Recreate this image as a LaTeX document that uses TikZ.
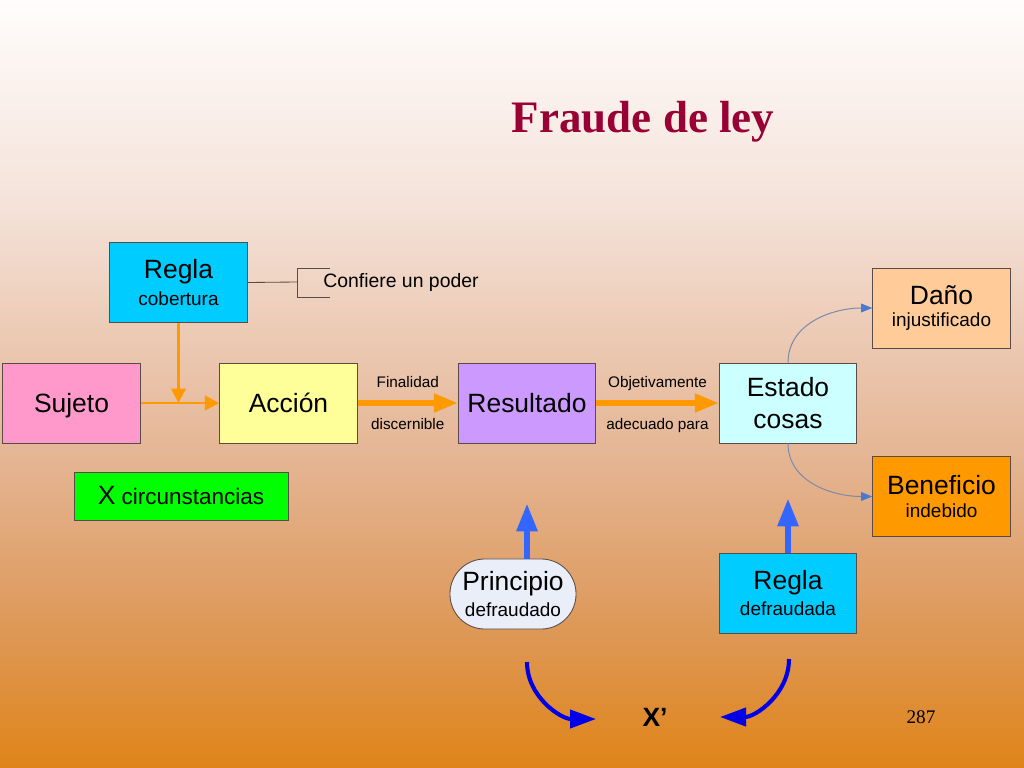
\documentclass[tikz,border=0pt]{standalone}
\usepackage{fontspec}
\setmainfont{Liberation Sans}
\newfontfamily\serifa{Liberation Serif}
\usetikzlibrary{arrows.meta}
\definecolor{cian}{HTML}{00CCFF}
\definecolor{rosa}{HTML}{FF99CC}
\definecolor{amarillo}{HTML}{FFFF99}
\definecolor{violeta}{HTML}{CC99FF}
\definecolor{celeste}{HTML}{CCFFFF}
\definecolor{salmon}{HTML}{FFCC99}
\definecolor{naranja}{HTML}{FF9900}
\definecolor{verde}{HTML}{00FF00}
\definecolor{lila}{HTML}{E9EEF9}
\definecolor{azul}{HTML}{3366FF}
\definecolor{azulosc}{HTML}{0000E6}
\definecolor{gris}{HTML}{7A8AA8}
\definecolor{puntaazul}{HTML}{4A7AD0}
\definecolor{titulo}{HTML}{990033}
\definecolor{borde}{HTML}{5A4A48}
\definecolor{f1}{HTML}{DF8418}
\definecolor{f2}{HTML}{DE9A5C}
\definecolor{f3}{HTML}{E4B390}
\definecolor{f4}{HTML}{EDCDB9}
\definecolor{f5}{HTML}{F5E3DA}
\definecolor{f6}{HTML}{FFFDFC}
\pgfdeclareverticalshading{fondo}{100bp}{color(0bp)=(f1); color(25bp)=(f1); color(34.8bp)=(f2); color(44.5bp)=(f3); color(54.3bp)=(f4); color(62bp)=(f5); color(75bp)=(f6); color(100bp)=(f6)}
\newcommand{\grande}{\fontsize{18.8}{22.8}\selectfont}
\newcommand{\chico}{\fontsize{13.5}{21}\selectfont}
\newcommand{\dos}[2]{\grande #1\\[4.3pt]\chico #2}
\begin{document}
\begin{tikzpicture}[x=0.025cm, y=-0.025cm,
    caja/.style={draw=borde, line width=0.6pt, minimum width=3.44cm, minimum height=2cm, align=center, inner sep=0pt},
    flecha/.style={naranja, line width=2pt, -{Triangle[length=0.36cm,width=0.36cm]}},
    gruesa/.style={naranja, line width=3.6pt, -{Triangle[length=0.6cm,width=0.45cm]}},
    sube/.style={azul, line width=4.3pt, -{Triangle[length=0.7cm,width=0.5cm]}},
    curva/.style={azulosc, line width=2.9pt, -{Triangle[length=0.65cm,width=0.45cm]}},
    fina/.style={gris, line width=0.7pt, -{Triangle[length=0.28cm,width=0.22cm,color=puntaazul]}},
    eti/.style={font=\fontsize{10.9}{12}\selectfont, text=black, inner sep=0pt, text depth=0pt}]
    \useasboundingbox (0,0) rectangle (1024,768);
    \shade[shading=fondo] (0,0) rectangle (1024,768);
    \node[font=\serifa\bfseries\fontsize{32}{36}\selectfont, text=titulo] (tit) at (643,122) {Fraude de ley};
    % cajas
    \node[caja, fill=cian] (reg) at (178.5,282.5) {\dos{Regla}{cobertura}};
    \node[caja, fill=rosa, text depth=0pt] (suj) at (71.5,403) {\grande Sujeto};
    \node[caja, fill=amarillo] (acc) at (288.5,403) {\grande Acción};
    \node[caja, fill=violeta] (res) at (527,403) {\grande Resultado};
    \node[caja, fill=celeste, font=\grande] (est) at (788,403) {Estado\\cosas};
    \node[caja, fill=salmon] (dano) at (941.5,308) {\dos{Daño}{injustificado}};
    \node[caja, fill=naranja] (bene) at (941.5,496.5) {\dos{Beneficio}{indebido}};
    \node[caja, fill=verde, minimum width=5.35cm, minimum height=1.2cm] (circ) at (181,496) {{\grande X}{\fontsize{16}{18}\selectfont{} circunstancias}};
    \node[caja, fill=lila, rounded corners=0.87cm, minimum width=3.15cm, minimum height=1.75cm] (prin) at (513,594) {\dos{Principio}{defraudado}};
    \node[caja, fill=cian] (regd) at (788,593) {\dos{Regla}{defraudada}};
    \node[font=\grande\bfseries] (xp) at (655,717) {X’};
    \node[font=\serifa\fontsize{13.7}{16}\selectfont] (num) at (921,717) {287};
    % confiere
    \node[anchor=west, font=\fontsize{13.8}{16}\selectfont, inner sep=0pt] (conf) at (323,282) {Confiere un poder};
    \coordinate (brk) at (297,282);
    \draw[borde, line width=0.6pt] (reg.east) -- (brk);
    \draw[borde, line width=0.6pt] (330,268) -- (297,268) -- (297,297) -- (330,297);
    % flechas
    \draw[flecha] (suj.east) -- (acc.west);
    \draw[flecha] (reg.south) -- (reg.south |- suj.east);
    \draw[gruesa] (acc.east) -- node[eti, above=9.5pt] (fin) {Finalidad} node[eti, below=9pt] (dis) {discernible} (res.west);
    \draw[gruesa] (res.east) -- node[eti, above=9.5pt] (obj) {Objetivamente} node[eti, below=9pt] (ade) {adecuado para} (est.west);
    \draw[fina] (est.north) to[out=90,in=180] (dano.west);
    \draw[fina] (est.south) to[out=-90,in=180] (bene.west);
    \draw[sube, shorten >=1.5cm] (prin.north -| res.south) -- (res.south);
    \draw[sube, shorten >=1.375cm] (regd.north) -- (est.south);
    \coordinate (c1) at (527,662);
    \coordinate (c2) at (596,719);
    \coordinate (c3) at (789,659);
    \coordinate (c4) at (720,717);
    \draw[curva] (c1) to[out=-90,in=180] (c2);
    \draw[curva] (c3) to[out=-90,in=0] (c4);
\end{tikzpicture}
\end{document}
